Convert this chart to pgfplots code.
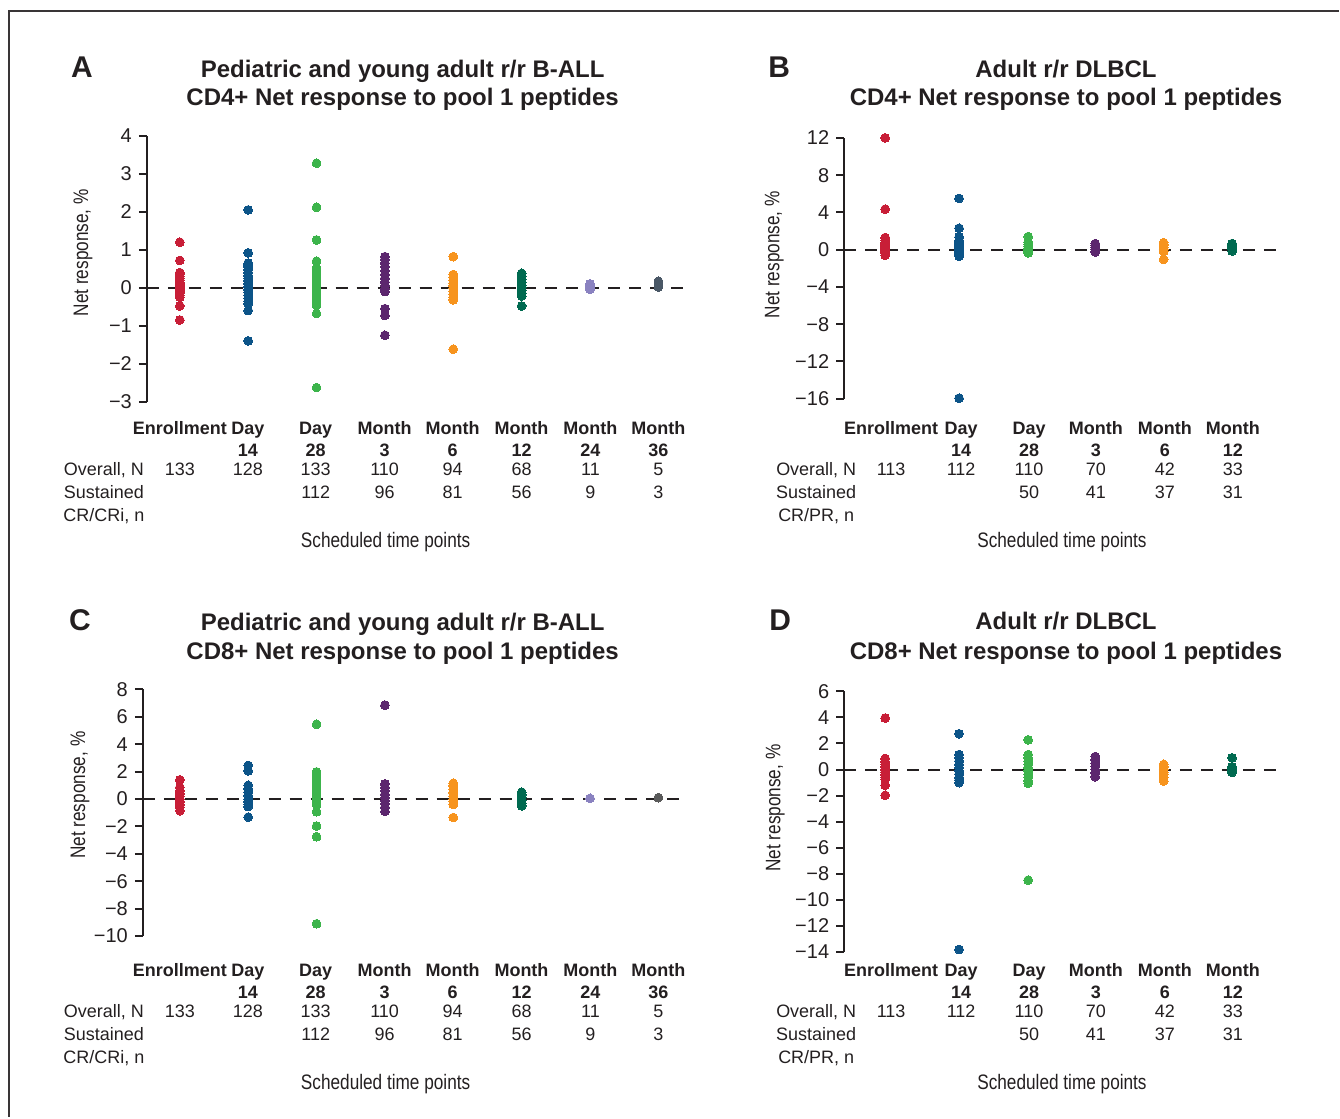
\documentclass[border=0pt]{standalone}
\usepackage{fontspec}
\setmainfont{Liberation Sans}
\usepackage{graphicx}
\usepackage{pgfplots}
\pgfplotsset{compat=1.18}

\definecolor{ink}{RGB}{35,31,32}
\definecolor{cred}{RGB}{200,30,55}
\definecolor{cblue}{RGB}{12,84,136}
\definecolor{cgreen}{RGB}{60,180,75}
\definecolor{cpurple}{RGB}{92,38,110}
\definecolor{corange}{RGB}{247,148,30}
\definecolor{cteal}{RGB}{0,106,80}
\definecolor{clav}{RGB}{138,130,192}
\definecolor{cslate}{RGB}{74,88,102}
\definecolor{cgray}{RGB}{90,90,90}

\newcommand{\cond}[1]{\scalebox{0.82}[1]{#1}}

\pgfplotsset{
  panel/.style={
    scale only axis, clip=false, anchor=south west,
    axis x line=none, axis y line*=left,
    y axis line style={line width=1pt, color=ink, -},
    ytick align=outside, major tick length=4pt,
    ytick style={line width=1pt, color=ink},
    tick label style={font=\fontsize{10}{12}\selectfont, color=ink},
  },
  dot/.style={only marks, color=#1, mark=*, mark size=2.2pt, mark options={draw=#1, fill=#1, line width=0pt}},
  zero/.style={ink, line width=1pt, dash pattern=on 6pt off 4.5pt, mark=none},
}

\begin{document}
\begin{tikzpicture}
\begin{scope}[x=0.5pt,y=-0.5pt]
\path[use as bounding box] (0,0) rectangle (1340,1118);
\end{scope}

% ---------------- Panel A ----------------
\begin{axis}[panel, at={(73.5pt,-201pt)}, width=269.5pt, height=133pt,
  xmin=-0.482, xmax=7.394, ymin=-3, ymax=4,
  ytick={-3,-2,-1,0,1,2,3,4}, yticklabels={−3,−2,−1,0,1,2,3,4}]
\addplot[dot=cred] coordinates {(0,1.20)(0,0.72)(0,0.40)(0,0.35)(0,0.30)(0,0.25)(0,0.20)(0,0.15)(0,0.10)(0,0.05)(0,0.0)(0,-0.05)(0,-0.10)(0,-0.15)(0,-0.20)(0,-0.25)(0,-0.48)(0,-0.85)};
\addplot[dot=cblue] coordinates {(1,2.05)(1,0.92)(1,0.65)(1,0.60)(1,0.55)(1,0.48)(1,0.40)(1,0.32)(1,0.25)(1,0.18)(1,0.10)(1,0.03)(1,-0.05)(1,-0.12)(1,-0.20)(1,-0.28)(1,-0.35)(1,-0.42)(1,-0.60)(1,-1.40)};
\addplot[dot=cgreen] coordinates {(2,3.28)(2,2.12)(2,1.26)(2,0.70)(2,0.52)(2,0.45)(2,0.38)(2,0.30)(2,0.22)(2,0.15)(2,0.08)(2,0.0)(2,-0.08)(2,-0.16)(2,-0.24)(2,-0.32)(2,-0.40)(2,-0.47)(2,-0.68)(2,-2.63)};
\addplot[dot=cpurple] coordinates {(3,0.82)(3,0.75)(3,0.65)(3,0.55)(3,0.45)(3,0.35)(3,0.25)(3,0.15)(3,0.05)(3,-0.03)(3,-0.10)(3,-0.55)(3,-0.73)(3,-1.25)};
\addplot[dot=corange] coordinates {(4,0.82)(4,0.35)(4,0.28)(4,0.20)(4,0.12)(4,0.05)(4,-0.02)(4,-0.10)(4,-0.18)(4,-0.25)(4,-0.32)(4,-1.62)};
\addplot[dot=cteal] coordinates {(5,0.38)(5,0.30)(5,0.22)(5,0.14)(5,0.06)(5,0.0)(5,-0.06)(5,-0.14)(5,-0.22)(5,-0.48)};
\addplot[dot=clav] coordinates {(6,0.10)(6,0.05)(6,0.0)(6,-0.04)};
\addplot[dot=cslate] coordinates {(7,0.17)(7,0.12)(7,0.07)(7,0.03)(7,0.02)};
\addplot[zero] coordinates {(-0.482,0)(7.394,0)};
\end{axis}

% ---------------- Panel B ----------------
\begin{axis}[panel, at={(422.5pt,-199.5pt)}, width=219pt, height=130.5pt,
  xmin=-0.599, xmax=5.796, ymin=-16, ymax=12,
  ytick={-16,-12,-8,-4,0,4,8,12}, yticklabels={−16,−12,−8,−4,0,4,8,12}]
\addplot[dot=cred] coordinates {(0,12.0)(0,4.35)(0,1.30)(0,1.00)(0,0.75)(0,0.50)(0,0.30)(0,0.15)(0,0.0)(0,-0.2)(0,-0.4)(0,-0.6)};
\addplot[dot=cblue] coordinates {(1.08,5.5)(1.08,2.3)(1.08,1.35)(1.08,1.0)(1.08,0.75)(1.08,0.5)(1.08,0.3)(1.08,0.1)(1.08,-0.1)(1.08,-0.3)(1.08,-0.5)(1.08,-0.7)(1.08,-15.95)};
\addplot[dot=cgreen] coordinates {(2.09,1.40)(2.09,0.80)(2.09,0.55)(2.09,0.35)(2.09,0.15)(2.09,0.0)(2.09,-0.15)(2.09,-0.35)};
\addplot[dot=cpurple] coordinates {(3.07,0.65)(3.07,0.45)(3.07,0.25)(3.07,0.05)(3.07,-0.15)(3.07,-0.25)};
\addplot[dot=corange] coordinates {(4.07,0.75)(4.07,0.5)(4.07,0.25)(4.07,0.0)(4.07,-0.2)(4.07,-1.05)};
\addplot[dot=cteal] coordinates {(5.07,0.65)(5.07,0.45)(5.07,0.25)(5.07,0.05)(5.07,-0.15)};
\addplot[zero] coordinates {(-0.599,0)(5.796,0)};
\end{axis}

% ---------------- Panel C ----------------
\begin{axis}[panel, at={(71.5pt,-468.5pt)}, width=271.5pt, height=123.5pt,
  xmin=-0.541, xmax=7.394, ymin=-10, ymax=8,
  ytick={-10,-8,-6,-4,-2,0,2,4,6,8}, yticklabels={−10,−8,−6,−4,−2,0,2,4,6,8}]
\addplot[dot=cred] coordinates {(0,1.40)(0,0.85)(0,0.6)(0,0.4)(0,0.2)(0,0.0)(0,-0.2)(0,-0.4)(0,-0.6)(0,-0.85)};
\addplot[dot=cblue] coordinates {(1,2.45)(1,2.05)(1,1.0)(1,0.75)(1,0.5)(1,0.25)(1,0.0)(1,-0.2)(1,-0.4)(1,-0.55)(1,-1.32)};
\addplot[dot=cgreen] coordinates {(2,5.45)(2,1.98)(2,1.7)(2,1.45)(2,1.2)(2,0.95)(2,0.7)(2,0.45)(2,0.2)(2,0.0)(2,-0.2)(2,-0.42)(2,-0.93)(2,-1.97)(2,-2.75)(2,-9.1)};
\addplot[dot=cpurple] coordinates {(3,6.85)(3,1.10)(3,0.85)(3,0.6)(3,0.35)(3,0.1)(3,-0.1)(3,-0.35)(3,-0.6)(3,-0.9)};
\addplot[dot=corange] coordinates {(4,1.15)(4,0.95)(4,0.7)(4,0.45)(4,0.2)(4,0.0)(4,-0.2)(4,-0.4)(4,-1.35)};
\addplot[dot=cteal] coordinates {(5,0.5)(5,0.3)(5,0.1)(5,-0.1)(5,-0.3)(5,-0.5)};
\addplot[dot=clav] coordinates {(6,0.05)};
\addplot[dot=cgray] coordinates {(7,0.1)};
\addplot[zero] coordinates {(-0.541,0)(7.394,0)};
\end{axis}

% ---------------- Panel D ----------------
\begin{axis}[panel, at={(422.5pt,-476.5pt)}, width=219pt, height=130.5pt,
  xmin=-0.599, xmax=5.796, ymin=-14, ymax=6,
  ytick={-14,-12,-10,-8,-6,-4,-2,0,2,4,6}, yticklabels={−14,−12,−10,−8,−6,−4,−2,0,2,4,6}]
\addplot[dot=cred] coordinates {(0,3.95)(0,0.85)(0,0.6)(0,0.4)(0,0.2)(0,0.0)(0,-0.2)(0,-0.4)(0,-0.6)(0,-0.75)(0,-1.2)(0,-1.97)};
\addplot[dot=cblue] coordinates {(1.08,2.75)(1.08,1.15)(1.08,0.9)(1.08,0.65)(1.08,0.4)(1.08,0.15)(1.08,-0.1)(1.08,-0.35)(1.08,-0.6)(1.08,-0.8)(1.08,-1.0)(1.08,-13.8)};
\addplot[dot=cgreen] coordinates {(2.09,2.28)(2.09,1.15)(2.09,0.9)(2.09,0.65)(2.09,0.4)(2.09,0.15)(2.09,-0.1)(2.09,-0.35)(2.09,-0.6)(2.09,-0.85)(2.09,-1.05)(2.09,-8.48)};
\addplot[dot=cpurple] coordinates {(3.07,1.0)(3.07,0.75)(3.07,0.5)(3.07,0.25)(3.07,0.0)(3.07,-0.25)(3.07,-0.55)};
\addplot[dot=corange] coordinates {(4.07,0.4)(4.07,0.2)(4.07,0.0)(4.07,-0.2)(4.07,-0.4)(4.07,-0.6)(4.07,-0.88)};
\addplot[dot=cteal] coordinates {(5.07,0.9)(5.07,0.22)(5.07,0.1)(5.07,0.0)(5.07,-0.1)(5.07,-0.22)};
\addplot[zero] coordinates {(-0.599,0)(5.796,0)};
\end{axis}

% ---------------- Texts ----------------
\begin{scope}[x=0.5pt,y=-0.5pt, every node/.style={color=ink, inner sep=0pt}]
\draw[line width=1.3pt, color=ink!90] (9,1118) -- (9,11) -- (1340,11);

% panel letters and titles
\node[anchor=base, font=\bfseries\fontsize{15}{17}\selectfont] at (82,78) {A};
\node[anchor=base, font=\bfseries\fontsize{15}{17}\selectfont] at (780,78) {B};
\node[anchor=base, font=\bfseries\fontsize{15}{17}\selectfont] at (80,631) {C};
\node[anchor=base, font=\bfseries\fontsize{15}{17}\selectfont] at (781,631) {D};

\begin{scope}[every node/.append style={anchor=base, font=\bfseries\fontsize{12}{14}\selectfont}]
\node at (403,77.5) {Pediatric and young adult r/r B-ALL};
\node at (403,105.5) {CD4+ Net response to pool 1 peptides};
\node at (1067,77.5) {Adult r/r DLBCL};
\node at (1067,105.5) {CD4+ Net response to pool 1 peptides};
\node at (403,631.5) {Pediatric and young adult r/r B-ALL};
\node at (403,660.5) {CD8+ Net response to pool 1 peptides};
\node at (1067,630.5) {Adult r/r DLBCL};
\node at (1067,660.5) {CD8+ Net response to pool 1 peptides};
\end{scope}

% y labels
\begin{scope}[every node/.append style={rotate=90, font=\fontsize{10.5}{12}\selectfont}]
\node at (83,253) {\cond{Net response, \%}};
\node at (775,255) {\cond{Net response, \%}};
\node at (80,796) {\cond{Net response, \%}};
\node at (776,809) {\cond{Net response, \%}};
\end{scope}

% x tables
\begin{scope}[every node/.append style={anchor=base, font=\fontsize{9}{11}\selectfont}]
\foreach \dy in {0,543}{
  \foreach \x/\a/\b in {180/Enrollment/, 248/Day/14, 316/Day/28, 385/Month/3, 453/Month/6, 522/Month/12, 591/Month/24, 659/Month/36}{
    \node[font=\bfseries\fontsize{9}{11}\selectfont] at (\x,434.5+\dy) {\a};
    \node[font=\bfseries\fontsize{9}{11}\selectfont] at (\x,456.5+\dy) {\b};
  }
  \foreach \x/\a in {180/133, 248/128, 316/133, 385/110, 453/94, 522/68, 591/11, 659/5}{
    \node at (\x,475.5+\dy) {\a};
  }
  \foreach \x/\a in {316/112, 385/96, 453/81, 522/56, 591/9, 659/3}{
    \node at (\x,498.5+\dy) {\a};
  }
  \node at (104,475.5+\dy) {Overall, N};
  \node at (104,498.5+\dy) {Sustained};
  \node at (104,521.5+\dy) {CR/CRi, n};
  \node[font=\fontsize{10.5}{12}\selectfont] at (386,548+\dy) {\cond{Scheduled time points}};

  \foreach \x/\a/\b in {892/Enrollment/, 962/Day/14, 1030/Day/28, 1097/Month/3, 1166/Month/6, 1234/Month/12}{
    \node[font=\bfseries\fontsize{9}{11}\selectfont] at (\x,434.5+\dy) {\a};
    \node[font=\bfseries\fontsize{9}{11}\selectfont] at (\x,456.5+\dy) {\b};
  }
  \foreach \x/\a in {892/113, 962/112, 1030/110, 1097/70, 1166/42, 1234/33}{
    \node at (\x,475.5+\dy) {\a};
  }
  \foreach \x/\a in {1030/50, 1097/41, 1166/37, 1234/31}{
    \node at (\x,498.5+\dy) {\a};
  }
  \node at (817,475.5+\dy) {Overall, N};
  \node at (817,498.5+\dy) {Sustained};
  \node at (817,521.5+\dy) {CR/PR, n};
  \node[font=\fontsize{10.5}{12}\selectfont] at (1063,548+\dy) {\cond{Scheduled time points}};
}
\end{scope}
\end{scope}
\end{tikzpicture}
\end{document}
